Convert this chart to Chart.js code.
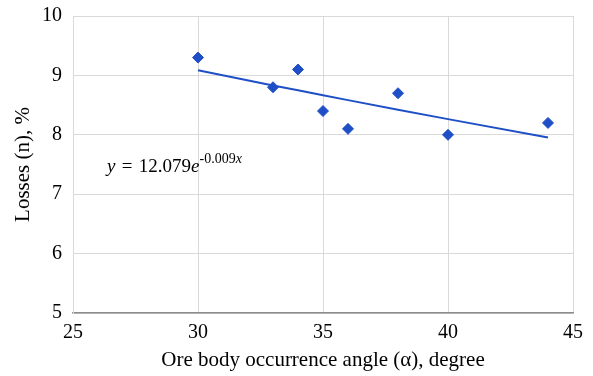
<!DOCTYPE html>
<html lang="en">
<head>
    <meta charset="UTF-8">
    <title>Losses vs occurrence angle</title>
    <script src="https://cdn.jsdelivr.net/npm/chart.js"></script>
    <style>
        body { margin: 0; background: #fff; }
        #wrap { width: 593px; height: 376px; }
    </style>
</head>
<body>
    <div id="wrap"><canvas id="lossChart"></canvas></div>

    <script>
        // measured points
        const angles = [30, 33, 34, 35, 36, 38, 40, 44];
        const losses = [9.3, 8.8, 9.1, 8.4, 8.1, 8.7, 8.0, 8.2];
        const xTicks = [25, 30, 35, 40, 45];
        const yTicks = [5, 6, 7, 8, 9, 10];

        // exponential trendline fitted on ln(y), the same way a spreadsheet does it
        function expFit(xs, ys) {
            const n = xs.length;
            const ly = ys.map(v => Math.log(v));
            const mx = xs.reduce((a, b) => a + b, 0) / n;
            const my = ly.reduce((a, b) => a + b, 0) / n;
            let sxy = 0, sxx = 0;
            for (let i = 0; i < n; i++) {
                sxy += (xs[i] - mx) * (ly[i] - my);
                sxx += (xs[i] - mx) * (xs[i] - mx);
            }
            const b = sxy / sxx;
            return { a: Math.exp(my - b * mx), b: b };
        }
        const fit = expFit(angles, losses);
        const trend = angles.map(x => ({ x: x, y: fit.a * Math.exp(fit.b * x) }));

        const blue = '#1f4fc6';
        const serif = "'Liberation Serif', 'Times New Roman', serif";

        // equation label, drawn with a real superscript
        const equationPlugin = {
            id: 'equation',
            afterDatasetsDraw(chart) {
                const ctx = chart.ctx;
                const x = chart.scales.x.getPixelForValue(26.36);
                const y = chart.scales.y.getPixelForValue(7.374);
                const parts = [
                    ['y', 'italic 19px ', 0],
                    ['\u2004=\u2004', '19px ', 0],
                    ['12.079', '19px ', 0],
                    ['e', 'italic 19px ', 0],
                    ['-0.009', '14px ', -8.5],
                    ['x', 'italic 14px ', -8.5]
                ];
                ctx.save();
                ctx.fillStyle = '#000';
                ctx.textBaseline = 'alphabetic';
                let w = 0;
                parts.forEach(p => {
                    ctx.font = p[1] + serif;
                    ctx.fillText(p[0], x + w, y + p[2]);
                    w += ctx.measureText(p[0]).width;
                });
                ctx.restore();
            }
        };

        new Chart(document.getElementById('lossChart'), {
            type: 'scatter',
            data: {
                datasets: [
                    {
                        label: 'Losses',
                        data: angles.map((x, i) => ({ x: x, y: losses[i] })),
                        pointStyle: 'rectRot',
                        pointRadius: 5.5,
                        pointBackgroundColor: blue,
                        pointBorderColor: blue,
                        showLine: false,
                        order: 1
                    },
                    {
                        label: 'Trend',
                        data: trend,
                        showLine: true,
                        borderColor: blue,
                        borderWidth: 2,
                        pointRadius: 0,
                        fill: false,
                        order: 2
                    }
                ]
            },
            options: {
                responsive: true,
                maintainAspectRatio: false,
                animation: false,
                layout: { padding: { top: 16, right: 20, bottom: 3, left: 11 } },
                plugins: {
                    legend: { display: false },
                    tooltip: { enabled: false }
                },
                scales: {
                    x: {
                        type: 'linear',
                        min: 25,
                        max: 45,
                        afterBuildTicks: axis => { axis.ticks = xTicks.map(v => ({ value: v })); },
                        afterFit: axis => { axis.height = 60; },
                        grid: { color: '#d9d9d9', drawTicks: false },
                        border: { color: '#8c8c8c', width: 1.5 },
                        ticks: { color: '#000', padding: 8, font: { family: serif, size: 20 } },
                        title: {
                            display: true,
                            text: 'Ore body occurrence angle (\u03b1), degree',
                            color: '#000',
                            padding: { top: 0, bottom: 0 },
                            font: { family: serif, size: 21 }
                        }
                    },
                    y: {
                        min: 5,
                        max: 10,
                        afterBuildTicks: axis => { axis.ticks = yTicks.map(v => ({ value: v })); },
                        afterFit: axis => { axis.width = 62; },
                        grid: { color: '#d9d9d9', drawTicks: false },
                        border: { color: '#d9d9d9' },
                        ticks: { color: '#000', padding: 11, font: { family: serif, size: 20, lineHeight: 0.5 } },
                        title: {
                            display: true,
                            text: 'Losses (n), %',
                            color: '#000',
                            padding: { top: 0, bottom: 0 },
                            font: { family: serif, size: 21 }
                        }
                    }
                }
            },
            plugins: [equationPlugin]
        });
    </script>
</body>
</html>
